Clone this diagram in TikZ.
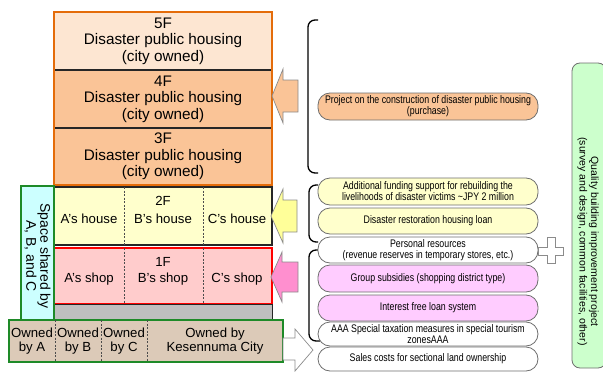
\documentclass[tikz,border=0pt]{standalone}
\usepackage{fontspec}
\setmainfont{Liberation Sans}
\newfontfamily\narrowfont{Liberation Sans}[FakeStretch=0.8]
\definecolor{peachlight}{HTML}{FDE6D2}
\definecolor{peach}{HTML}{FAC497}
\definecolor{orangeline}{HTML}{E46C0A}
\definecolor{houseyellow}{HTML}{FFFFCC}
\definecolor{shoppink}{HTML}{FFCCCC}
\definecolor{bandgray}{HTML}{BFBFBF}
\definecolor{sharedcyan}{HTML}{CCFFFF}
\definecolor{greenline}{HTML}{1E8A28}
\definecolor{landtan}{HTML}{DCCAB8}
\definecolor{arrowyellow}{HTML}{FFFF99}
\definecolor{arrowpink}{HTML}{FF8FCF}
\definecolor{pillyellow}{HTML}{FFFFCC}
\definecolor{pillviolet}{HTML}{FFCCFF}
\definecolor{pillgreen}{HTML}{CCFFCC}
\definecolor{edgegray}{HTML}{6E6E6E}
\begin{document}
\begin{tikzpicture}[x=1pt,y=-1pt,
  cell/.style={rectangle, inner sep=0pt, outer sep=0pt, anchor=north west},
  floortext/.style={font=\fontsize{15.3}{16.5}\selectfont, align=center},
  roomtext/.style={font=\fontsize{13.2}{15}\selectfont, inner sep=0pt},
  landtext/.style={font=\fontsize{13.2}{14}\selectfont, align=center, inner sep=0pt},
  divider/.style={dashed, line width=0.5pt, black!70, dash pattern=on 2pt off 1.5pt},
  pill/.style={cell, rounded corners=12pt, draw=edgegray, line width=0.8pt,
    minimum width=220pt, align=center,
    font=\narrowfont\fontsize{11}{11}\selectfont},
  blockarrow/.style={draw=edgegray!80, line width=0.7pt},
  bracket/.style={draw=black, line width=1.3pt, rounded corners=7pt}
]
\useasboundingbox (0,0) rectangle (603,372);

% upper floors: disaster public housing
\node[cell, fill=peachlight, minimum width=218pt, minimum height=58pt] (f5) at (54,12) {};
\node[cell, fill=peach, minimum width=218pt, minimum height=58pt] (f4) at (54,70) {};
\node[cell, fill=peach, minimum width=218pt, minimum height=57pt] (f3) at (54,128) {};
\node[floortext] (t5) at (f5.center) {5F\\Disaster public housing\\(city owned)};
\node[floortext] (t4) at (f4.center) {4F\\Disaster public housing\\(city owned)};
\node[floortext] (t3) at (f3.center) {3F\\Disaster public housing\\(city owned)};
\draw[line width=1.3pt, black!85] (f5.south west) -- (f5.south east);
\draw[line width=1.3pt, black!85] (f4.south west) -- (f4.south east);
\draw[line width=1pt, black!80] (f5.north west) -- (f5.north east);
\draw[orangeline, line width=1.8pt] (f5.north west) rectangle (f3.south east);

% 2F houses
\node[cell, fill=houseyellow, draw=black!85, line width=1.2pt, minimum width=218pt, minimum height=58pt] (f2) at (54,187) {};
\draw[divider] (124,187) -- (124,245);
\draw[divider] (203,187) -- (203,245);
\node[roomtext] (l2) at (163,201) {2F};
\node[roomtext] (ah) at (89,219) {A's house};
\node[roomtext] (bh) at (163,219) {B's house};
\node[roomtext] (chs) at (237,219) {C's house};

% 1F shops
\node[cell, fill=shoppink, draw=red, line width=1.3pt, minimum width=218pt, minimum height=56pt] (f1) at (54,248) {};
\draw[divider] (124,248) -- (124,304);
\draw[divider] (203,248) -- (203,304);
\node[roomtext] (l1) at (163,262) {1F};
\node[roomtext] (as) at (89,279) {A's shop};
\node[roomtext] (bs) at (163,279) {B's shop};
\node[roomtext] (cs) at (237,279) {C's shop};

% ground band
\node[cell, fill=bandgray, draw=black!85, line width=1pt, minimum width=218pt, minimum height=15pt] (gb) at (54,304) {};

% shared space
\node[cell, fill=sharedcyan, draw=greenline, line width=1.8pt, minimum width=33pt, minimum height=134pt] (sh) at (21,186) {};
\node[rotate=-90, align=center, font=\fontsize{14}{13}\selectfont] (sht) at ([yshift=-3pt]sh.center) {Space shared by\\A, B, and C};

% land ownership
\node[cell, fill=landtan, draw=greenline, line width=2.2pt, minimum width=274pt, minimum height=42pt] (land) at (9,320) {};
\draw[divider] (55,320) -- (55,362);
\draw[divider] (101,320) -- (101,362);
\draw[divider] (147,320) -- (147,362);
\node[landtext] (oa) at (32,341) {Owned\\by A};
\node[landtext] (ob) at (78,341) {Owned\\by B};
\node[landtext] (oc) at (124,341) {Owned\\by C};
\node[landtext] (ok) at (215,341) {Owned by\\Kesennuma City};

% block arrows
\filldraw[blockarrow, fill=peach] (272,96) -- (283,69) -- (283,80) -- (298,80) -- (298,112) -- (283,112) -- (283,123) -- cycle;
\filldraw[blockarrow, fill=arrowyellow] (271,216) -- (283,189) -- (283,200) -- (297,200) -- (297,232) -- (283,232) -- (283,243) -- cycle;
\filldraw[blockarrow, fill=arrowpink] (271,277) -- (282,252) -- (282,262) -- (298,262) -- (298,292) -- (282,292) -- (282,302) -- cycle;
\filldraw[blockarrow, fill=white] (283,338) -- (295,338) -- (295,329) -- (313,350) -- (295,371) -- (295,360) -- (283,360) -- cycle;

% brackets
\draw[bracket] (318,20) -- (308,20) -- (308,173) -- (318,173);
\draw[bracket] (318,185) -- (309,185) -- (309,242) -- (318,242);
\draw[bracket] (318,250) -- (309,250) -- (309,341) -- (320,341);

% funding measures
\node[pill, fill=peach, minimum height=27pt] (p1) at (318,93) {Project on the construction of disaster public housing\\(purchase)};
\node[pill, fill=pillyellow, minimum height=27pt] (p2) at (318,178) {Additional funding support for rebuilding the\\livelihoods of disaster victims \textasciitilde JPY 2 million};
\node[pill, fill=pillyellow, minimum height=26pt] (p3) at (318,208) {Disaster restoration housing loan};
\node[pill, fill=white, minimum height=26pt] (p4) at (318,237) {Personal resources\\(revenue reserves in temporary stores, etc.)};
\node[pill, fill=pillviolet, minimum height=27pt] (p5) at (318,265) {Group subsidies (shopping district type)};
\node[pill, fill=pillviolet, minimum height=26pt] (p6) at (318,295) {Interest free loan system};
\node[pill, fill=white, minimum height=24pt] (p7) at (318,322) {AAA Special taxation measures in special tourism\\zonesAAA};
\node[pill, fill=white, minimum height=24pt] (p8) at (318,347) {Sales costs for sectional land ownership};

% plus sign
\filldraw[blockarrow, fill=white] (538,247) -- (547,247) -- (547,237) -- (555,237) -- (555,247) -- (563,247) -- (563,255) -- (555,255) -- (555,263) -- (547,263) -- (547,255) -- (538,255) -- cycle;

% quality building improvement project
\node[cell, fill=pillgreen, draw=edgegray, line width=0.8pt, rounded corners=8pt, minimum width=34pt, minimum height=305pt] (qb) at (572,63) {};
\node[rotate=-90, align=center, font=\fontsize{10.5}{11.5}\selectfont] (qbt) at ([xshift=-1pt,yshift=-26pt]qb.center) {Quality building improvement project\\(survey and design, common facilities, other)};
\end{tikzpicture}
\end{document}
